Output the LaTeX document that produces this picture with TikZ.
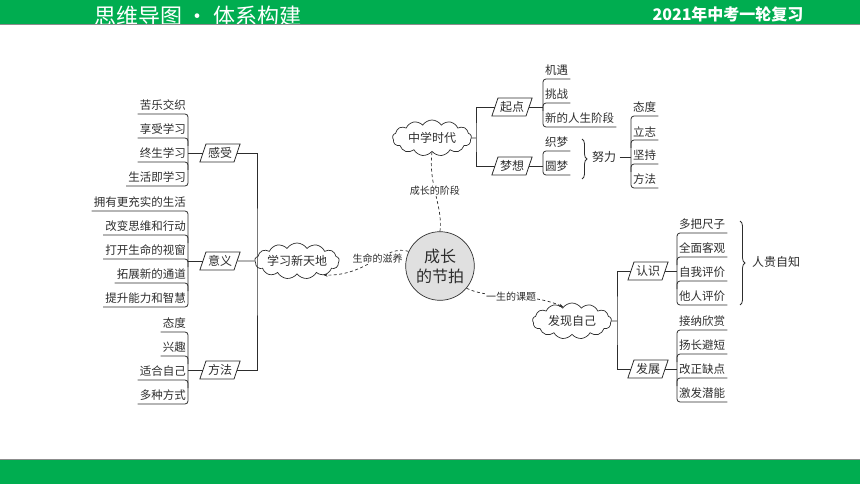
\documentclass[tikz,border=0pt]{standalone}
\usepackage{fontspec}
\newfontfamily\cjk{Noto Sans CJK SC}
\usetikzlibrary{shapes.geometric}
\usetikzlibrary{shapes.symbols}
\usetikzlibrary{decorations.pathreplacing}
\usetikzlibrary{arrows.meta}

\definecolor{banner}{RGB}{0,173,80}
\definecolor{ink}{RGB}{45,45,45}

\tikzset{
  branch/.style={draw=ink, line width=0.8pt},
  leafl/.style={anchor=south east, inner xsep=2pt, inner ysep=3pt, text=ink,
    font=\cjk\fontsize{11.5}{12}\selectfont},
  leafr/.style={leafl, anchor=south west},
  tag/.style={trapezium, trapezium stretches=true, draw=ink, line width=0.8pt,
    trapezium left angle=65, trapezium right angle=115, minimum height=18pt,
    inner xsep=2pt, inner ysep=1pt, text=ink, font=\cjk\fontsize{12}{12}\selectfont},
  bubble/.style={cloud, cloud puffs=13, cloud puff arc=115, cloud ignores aspect,
    draw=ink, line width=0.7pt, minimum width=79pt, minimum height=36pt, inner sep=0pt,
    text=ink, font=\cjk\fontsize{12}{12}\selectfont},
  dashlink/.style={draw=ink, line width=0.7pt, dash pattern=on 3pt off 2.5pt},
  linklabel/.style={fill=white, inner sep=1pt, text=ink, font=\cjk\fontsize{10}{10}\selectfont},
}

\begin{document}
\begin{tikzpicture}[x=1pt, y=-1pt]
\useasboundingbox (0,0) rectangle (860,484);

% green bands
\fill[banner] (0,0) rectangle (860,24);
\begin{scope}
\clip (0,0) rectangle (860,24);
\node[text=white, font=\cjk\fontsize{22}{22}\selectfont] (head) at (198,16) {思维导图 • 体系构建};
\end{scope}
\node[text=white, font=\cjk\bfseries\fontsize{16}{16}\selectfont] (review) at (728,14) {2021年中考一轮复习};
\draw[black!45, line width=1pt] (0,24.5) -- (860,24.5);
\fill[banner] (0,460) rectangle (860,484);
\draw[black!45, line width=1pt] (0,459.5) -- (860,459.5);

% centre and the three clouds
\node[circle, draw=ink, line width=0.7pt, fill=black!12, minimum size=68pt, align=center,
  text=ink, font=\cjk\fontsize{16}{20}\selectfont] (beat) at (440,266) {成长\\的节拍};
\node[bubble] (study) at (297,261) {学习新天地};
\node[bubble] (middle) at (432,138) {中学时代};
\node[bubble] (found) at (572,321) {发现自己};

\draw[dashlink] (beat.north) .. controls (443,205) and (428,185) ..
  node[linklabel, pos=0.55] {成长的阶段} (middle.south);
\draw[dashlink, -{Stealth[length=4pt, width=3pt]}] (beat.155) .. controls (385,244) and (368,276) ..
  node[linklabel, pos=0.45] {生命的滋养} (study.-28);
\draw[dashlink, -{Stealth[length=4pt, width=3pt]}] (beat.-40) .. controls (490,300) and (530,292) ..
  node[linklabel, pos=0.5] {一生的课题} (found.122);

% left: learning
\node[tag] (feel) at (220,153) {感受};
\node[tag] (meaning) at (220,261) {意义};
\node[tag] (way) at (220,370) {方法};
\coordinate (lj) at (257,262);
\draw[branch] (feel.east) -| (lj) |- (way.east);
\draw[branch] (meaning.east) -- (study.west);

\foreach \txt [count=\i] in {苦乐交织,享受学习,终生学习,生活即学习}
  \node[leafl] (feel\i) at (188,90+24*\i) {\txt};
\draw[branch, rounded corners=3pt] (feel1.south west) -- (feel1.south east) -- (feel4.south east) -- (feel4.south west);
\foreach \i in {2,3}
  \draw[branch, rounded corners=3pt] (feel\i.south west) -- (feel\i.south east) -- ++(0,8);
\draw[branch] (feel.west) -- (feel.west -| feel1.south east);

\foreach \txt [count=\i] in {拥有更充实的生活,改变思维和行动,打开生命的视窗,拓展新的通道,提升能力和智慧}
  \node[leafl] (meaning\i) at (188,187+24*\i) {\txt};
\draw[branch, rounded corners=3pt] (meaning1.south west) -- (meaning1.south east) -- (meaning5.south east) -- (meaning5.south west);
\foreach \i in {2,3,4}
  \draw[branch, rounded corners=3pt] (meaning\i.south west) -- (meaning\i.south east) -- ++(0,8);
\draw[branch] (meaning.west) -- (meaning.west -| meaning1.south east);

\foreach \txt [count=\i] in {态度,兴趣,适合自己,多种方式}
  \node[leafl] (way\i) at (188,308+24*\i) {\txt};
\draw[branch, rounded corners=3pt] (way1.south west) -- (way1.south east) -- (way4.south east) -- (way4.south west);
\foreach \i in {2,3}
  \draw[branch, rounded corners=3pt] (way\i.south west) -- (way\i.south east) -- ++(0,8);
\draw[branch] (way.west) -- (way.west -| way1.south east);

% top right: middle school
\node[tag] (start) at (512,107) {起点};
\node[tag] (dream) at (512,166) {梦想};
\coordinate (tj) at (476,138);
\draw[branch] (start.west) -| (tj) |- (dream.west);
\draw[branch] (middle.east) -- (tj);

\foreach \txt [count=\i] in {机遇,挑战,新的人生阶段}
  \node[leafr] (start\i) at (543,55+24*\i) {\txt};
\draw[branch, rounded corners=3pt] (start1.south east) -- (start1.south west) -- (start3.south west) -- (start3.south east);
\draw[branch, rounded corners=3pt] (start2.south east) -- (start2.south west) -- ++(0,8);
\draw[branch] (start.east) -- (start.east -| start1.south west);

\foreach \txt [count=\i] in {织梦,圆梦}
  \node[leafr] (dream\i) at (543,127+24*\i) {\txt};
\draw[branch, rounded corners=3pt] (dream1.south east) -- (dream1.south west) -- (dream2.south west) -- (dream2.south east);
\draw[branch] (dream.east) -- (dream.east -| dream1.south west);
\draw[branch, decorate, decoration={brace, amplitude=5pt}] (582,139) -- (582,179);

\node[text=ink, font=\cjk\fontsize{12}{12}\selectfont] (effort) at (604,157) {努力};
\foreach \txt [count=\i] in {态度,立志,坚持,方法}
  \node[leafr] (will\i) at (631,92+24*\i) {\txt};
\draw[branch, rounded corners=3pt] (will1.south east) -- (will1.south west) -- (will4.south west) -- (will4.south east);
\foreach \i in {2,3}
  \draw[branch, rounded corners=3pt] (will\i.south east) -- (will\i.south west) -- ++(0,8);
\draw[branch] (effort.east) -- (effort.east -| will1.south west);

% bottom right: finding oneself
\node[tag] (know) at (648,271) {认识};
\node[tag] (grow) at (648,369) {发展};
\coordinate (bj) at (617,321);
\draw[branch] (know.west) -| (bj) |- (grow.west);
\draw[branch] (found.east) -- (bj);

\foreach \txt [count=\i] in {多把尺子,全面客观,自我评价,他人评价}
  \node[leafr] (know\i) at (677,209+24*\i) {\txt};
\draw[branch, rounded corners=3pt] (know1.south east) -- (know1.south west) -- (know4.south west) -- (know4.south east);
\foreach \i in {2,3}
  \draw[branch, rounded corners=3pt] (know\i.south east) -- (know\i.south west) -- ++(0,8);
\draw[branch] (know.east) -- (know.east -| know1.south west);
\draw[branch, decorate, decoration={brace, amplitude=5pt}] (740,221) -- (740,305);
\node[text=ink, font=\cjk\fontsize{12}{12}\selectfont] (self) at (776,262) {人贵自知};

\foreach \txt [count=\i] in {接纳欣赏,扬长避短,改正缺点,激发潜能}
  \node[leafr] (grow\i) at (677,306+24*\i) {\txt};
\draw[branch, rounded corners=3pt] (grow1.south east) -- (grow1.south west) -- (grow4.south west) -- (grow4.south east);
\foreach \i in {2,3}
  \draw[branch, rounded corners=3pt] (grow\i.south east) -- (grow\i.south west) -- ++(0,8);
\draw[branch] (grow.east) -- (grow.east -| grow1.south west);
\end{tikzpicture}
\end{document}
